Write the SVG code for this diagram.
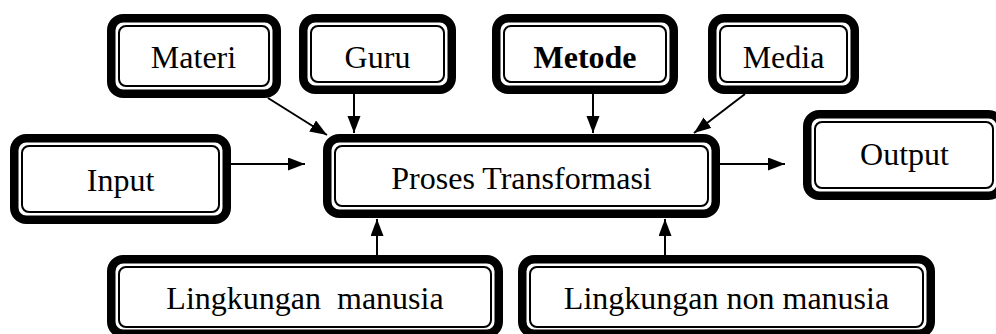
<svg xmlns="http://www.w3.org/2000/svg" width="996" height="334" viewBox="0 0 996 334">
<style>
.o{fill:#fff;stroke:#000;stroke-width:8.5}
.i{fill:none;stroke:#000;stroke-width:2}
.t{font-family:"Liberation Serif","Times New Roman",serif;font-size:32px;fill:#000;text-anchor:middle;white-space:pre}
.c{stroke:#000;stroke-width:2;fill:none;marker-end:url(#ah)}
</style>
<defs>
<marker id="ah" markerUnits="userSpaceOnUse" markerWidth="18" markerHeight="14" refX="17" refY="6.5" orient="auto">
<path d="M0,0 L17,6.5 L0,13 z" fill="#000"/>
</marker>
</defs>
<rect width="996" height="334" fill="#fff"/>
<g id="connectors">
<line class="c" x1="231" y1="164" x2="305" y2="164"/>
<line class="c" x1="720" y1="164" x2="785" y2="164"/>
<line class="c" x1="268" y1="98" x2="327" y2="135"/>
<line class="c" x1="354" y1="94" x2="354" y2="133"/>
<line class="c" x1="593" y1="94" x2="593" y2="133"/>
<line class="c" x1="745" y1="94" x2="694" y2="133"/>
<line class="c" x1="377" y1="255" x2="377" y2="219"/>
<line class="c" x1="665" y1="255" x2="665" y2="219"/>
</g>
<g id="materi">
<rect class="o" x="111.25" y="18.25" width="165.5" height="75.5" rx="12"/>
<rect class="i" x="119" y="26" width="150" height="60" rx="7"/>
<text class="t" x="193.5" y="68">Materi</text>
</g>
<g id="guru">
<rect class="o" x="303.25" y="18.25" width="148.5" height="71.5" rx="12"/>
<rect class="i" x="311" y="26" width="133" height="56" rx="7"/>
<text class="t" x="377.5" y="68">Guru</text>
</g>
<g id="metode">
<rect class="o" x="496.25" y="18.25" width="177.5" height="71.5" rx="12"/>
<rect class="i" x="504" y="26" width="162" height="56" rx="7"/>
<text class="t" x="585" y="68" font-weight="bold">Metode</text>
</g>
<g id="media">
<rect class="o" x="712.25" y="18.25" width="142.5" height="71.5" rx="12"/>
<rect class="i" x="720" y="26" width="127" height="56" rx="7"/>
<text class="t" x="783.5" y="68">Media</text>
</g>
<g id="input">
<rect class="o" x="14.25" y="138.25" width="212.5" height="81.5" rx="12"/>
<rect class="i" x="22" y="146" width="197" height="66" rx="7"/>
<text class="t" x="120.5" y="191">Input</text>
</g>
<g id="proses">
<rect class="o" x="327.25" y="138.25" width="388.5" height="75.5" rx="12"/>
<rect class="i" x="335" y="146" width="373" height="60" rx="7"/>
<text class="t" x="521.5" y="189">Proses Transformasi</text>
</g>
<g id="output">
<rect class="o" x="807.25" y="114.25" width="193.5" height="81.5" rx="12"/>
<rect class="i" x="815" y="122" width="178" height="66" rx="7"/>
<text class="t" x="904.5" y="165">Output</text>
</g>
<g id="lingkungan-manusia">
<rect class="o" x="111.25" y="259.25" width="387.5" height="74.5" rx="12"/>
<rect class="i" x="119" y="267" width="372" height="60" rx="7"/>
<text class="t" x="305" y="309">Lingkungan  manusia</text>
</g>
<g id="lingkungan-non-manusia">
<rect class="o" x="522.25" y="259.25" width="408.5" height="74.5" rx="12"/>
<rect class="i" x="530" y="267" width="393" height="60" rx="7"/>
<text class="t" x="726.5" y="309">Lingkungan non manusia</text>
</g>
</svg>
